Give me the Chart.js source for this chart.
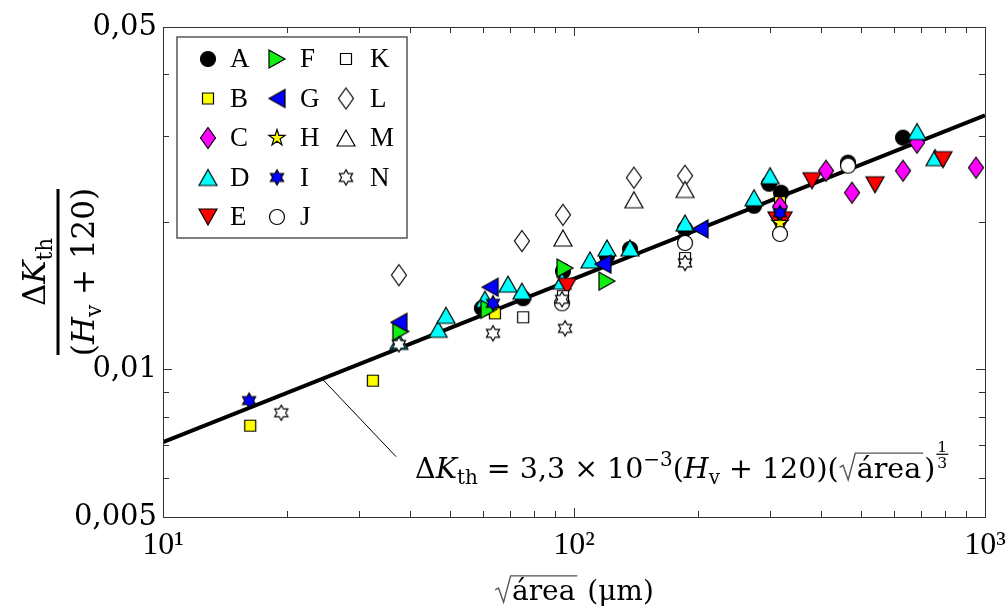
<!DOCTYPE html>
<html>
<head>
<meta charset="utf-8">
<script src="https://cdn.jsdelivr.net/npm/chart.js@4.4.1/dist/chart.umd.min.js"></script>
<style>
  html, body { margin: 0; padding: 0; background: #fff; }
  #wrap { width: 1008px; height: 610px; }
</style>
</head>
<body>
<div id="wrap"><canvas id="grafico" width="1008" height="610"></canvas></div>
<script>
// sqrt(área) in µm vs ΔKth/(Hv+120), one pair of arrays per material
const xA = [59.7, 75.2, 94.0, 120.3, 136.9, 186.3, 274.2, 298.3, 318.9, 464.3, 631.7];
const yA = [0.01334, 0.01398, 0.01588, 0.01704, 0.01762, 0.01936, 0.02158, 0.02394, 0.02295, 0.02643, 0.02973];
const xB = [16.3, 32.4, 64.2, 317.1];
const yB = [0.00768, 0.00949, 0.01302, 0.02196];
const xC = [317.1, 410.4, 474.8, 631.7, 683.3, 951];
const yC = [0.02150, 0.02545, 0.02295, 0.02545, 0.02904, 0.02582];
const xD = [37.5, 46.7, 48.8, 60.7, 69.1, 74.7, 93.5, 109.4, 120.3, 136.9, 186.3, 274.2, 300.0, 683.3, 755.7];
const yD = [0.01141, 0.01208, 0.01290, 0.01391, 0.01494, 0.01445, 0.01515, 0.01673, 0.01770, 0.01770, 0.01991, 0.02241, 0.02486, 0.03059, 0.02706];
const xE = [96.2, 311.8, 322.5, 379.4, 540.0, 790.3];
const yE = [0.01479, 0.02020, 0.02020, 0.02428, 0.02382, 0.02681];
const xF = [37.9, 62.1, 95.1, 120.3];
const yF = [0.01196, 0.01327, 0.01611, 0.01515];
const xG = [37.5, 62.5, 117.6, 202.6];
const yG = [0.01248, 0.01472, 0.01641, 0.01936];
const xH = [317.1];
const yH = [0.01991];
const xI = [16.2, 63.5, 317.1];
const yI = [0.00864, 0.01365, 0.02088];
const xJ = [93.5, 186.3, 317.1, 464.3];
const yJ = [0.01365, 0.01812, 0.01891, 0.02606];
const xK = [75.2, 94.0, 186.3];
const yK = [0.01278, 0.01411, 0.01688];
const xL = [37.5, 74.7, 94.0, 139.9, 186.3];
const yL = [0.01558, 0.01829, 0.02069, 0.02463, 0.02486];
const xM = [94.0, 139.9, 186.3];
const yM = [0.01855, 0.02220, 0.02330];
const xN = [19.4, 37.5, 63.5, 95.1, 93.5, 186.3];
const yN = [0.00816, 0.01125, 0.01185, 0.01213, 0.01391, 0.01649];

const SERIES = ['A', 'B', 'C', 'D', 'E', 'F', 'G', 'H', 'I', 'J', 'K', 'L', 'M', 'N'];
const SERIES_X = [xA, xB, xC, xD, xE, xF, xG, xH, xI, xJ, xK, xL, xM, xN];
const SERIES_Y = [yA, yB, yC, yD, yE, yF, yG, yH, yI, yJ, yK, yL, yM, yN];

// ΔKth = 3,3e-3 (Hv+120) sqrt(área)^(1/3)
const FIT_COEF = 3.3e-3;
const FIT_EXP = 1 / 3;
const FIT_RANGE = [10, 1000];

// leader from the fit line down to the equation
const LEADER_X = [24.4, 36.9];
const LEADER_Y_END = 0.00664;

const X_TICKS = [10, 20, 30, 40, 50, 60, 70, 80, 90, 100, 200, 300, 400, 500, 600, 700, 800, 900, 1000];
const X_LABELS = { 10: '10¹', 100: '10²', 1000: '10³' };
const Y_TICKS = [0.005, 0.006, 0.007, 0.008, 0.009, 0.01, 0.02, 0.03, 0.04, 0.05];
const Y_LABELS = { 0.005: '0,005', 0.01: '0,01', 0.05: '0,05' };

const MATH = '"DejaVu Serif"';
const TEXT = '"Liberation Serif"';

const MARKERS = {
    A: ['circle', '#000000'],
    B: ['square', '#ffff00'],
    C: ['diamond', '#ff00ff'],
    D: ['triUp', '#00ffff'],
    E: ['triDown', '#ff0000'],
    F: ['triRight', '#11ee11'],
    G: ['triLeft', '#0000ff'],
    H: ['pentagram', '#ffff00'],
    I: ['hexagram', '#0000ff'],
    J: ['circle', '#ffffff'],
    K: ['square', '#ffffff'],
    L: ['diamond', '#ffffff'],
    M: ['triUp', '#ffffff'],
    N: ['hexagram', '#ffffff'],
};

function starPath(g, n, R, r) {
    for (let i = 0; i < 2 * n; i++) {
        const ang = -Math.PI / 2 + i * Math.PI / n;
        const rad = i % 2 === 0 ? R : r;
        const px = rad * Math.cos(ang), py = rad * Math.sin(ang);
        if (i === 0) g.moveTo(px, py); else g.lineTo(px, py);
    }
}

function makeMarker(shape, fill) {
    const c = document.createElement('canvas');
    c.width = 26; c.height = 26;
    const g = c.getContext('2d');
    g.translate(13, 13);
    g.beginPath();
    switch (shape) {
        case 'circle': g.arc(0, 0, 7.5, 0, Math.PI * 2); break;
        case 'square': g.rect(-5.5, -5.5, 11, 11); break;
        case 'diamond':
            g.moveTo(0, -10.5); g.lineTo(7.5, 0); g.lineTo(0, 10.5); g.lineTo(-7.5, 0); break;
        case 'triUp':
            g.moveTo(0, -8); g.lineTo(9, 8); g.lineTo(-9, 8); break;
        case 'triDown':
            g.moveTo(0, 8); g.lineTo(9, -8); g.lineTo(-9, -8); break;
        case 'triRight':
            g.moveTo(8, 0); g.lineTo(-8, -9); g.lineTo(-8, 9); break;
        case 'triLeft':
            g.moveTo(-8, 0); g.lineTo(8, -9); g.lineTo(8, 9); break;
        case 'pentagram': starPath(g, 5, 8.5, 8.5 * 0.382); break;
        case 'hexagram': starPath(g, 6, 7.6, 7.6 / Math.sqrt(3)); break;
    }
    g.closePath();
    g.fillStyle = fill;
    g.fill();
    g.lineWidth = 1.2;
    g.strokeStyle = '#000';
    g.stroke();
    return c;
}

const markerImg = {};
SERIES.forEach(k => { markerImg[k] = makeMarker(MARKERS[k][0], MARKERS[k][1]); });

const fitY = x => FIT_COEF * Math.pow(x, FIT_EXP);

const datasets = SERIES.map((k, i) => ({
    label: k,
    data: SERIES_X[i].map((x, j) => ({ x, y: SERIES_Y[i][j] })),
    pointStyle: markerImg[k],
    pointRadius: 8,
    pointHoverRadius: 8,
    showLine: false,
    order: 20 - i,
}));

datasets.unshift({
    label: 'ajuste',
    data: FIT_RANGE.map(x => ({ x, y: fitY(x) })),
    showLine: true,
    borderColor: '#000',
    borderWidth: 4,
    pointRadius: 0,
    order: 30,
});
datasets.unshift({
    label: 'guia',
    data: [{ x: LEADER_X[0], y: fitY(LEADER_X[0]) }, { x: LEADER_X[1], y: LEADER_Y_END }],
    showLine: true,
    borderColor: '#000',
    borderWidth: 1,
    pointRadius: 0,
    order: 31,
});

// --- rich math text helpers ---
function setFont(ctx, size, italic, fam) {
    ctx.font = (italic ? 'italic ' : '') + size + 'px ' + (fam || MATH);
}

function drawRadical(ctx, x, y, text, size, draw) {
    const top = y - 0.86 * size;
    const x0 = x + 1;
    const xt = x0 + 0.6 * size;
    setFont(ctx, size, false);
    const w = ctx.measureText(text).width;
    if (draw) {
        ctx.save();
        ctx.lineWidth = Math.max(1.2, size * 0.05);
        ctx.lineJoin = 'miter';
        ctx.beginPath();
        ctx.moveTo(x0, y - 0.36 * size);
        ctx.lineTo(x0 + 0.12 * size, y - 0.43 * size);
        ctx.lineTo(x0 + 0.3 * size, y + 0.08 * size);
        ctx.lineTo(x0 + 0.55 * size, top);
        ctx.lineTo(xt + w + 2, top);
        ctx.stroke();
        ctx.restore();
        ctx.fillText(text, xt, y);
    }
    return xt + w + 3;
}

function drawRuns(ctx, x, y, runs, size, draw) {
    for (const r of runs) {
        if (r.rad) { x = drawRadical(ctx, x, y, r.rad, size, draw); continue; }
        if (r.frac) {
            const s = size * 0.55;
            setFont(ctx, s, false);
            const w = Math.max(ctx.measureText(r.frac[0]).width, ctx.measureText(r.frac[1]).width) + 2;
            if (draw) {
                const bar = y - 0.82 * size;
                ctx.textAlign = 'center';
                ctx.fillText(r.frac[0], x + 1 + w / 2, bar - 2);
                ctx.fillText(r.frac[1], x + 1 + w / 2, bar + 2 + 0.73 * s);
                ctx.textAlign = 'left';
                ctx.fillRect(x + 1, bar - 0.6, w, 1.2);
            }
            x += w + 2;
            continue;
        }
        const s = size * (r.s || 1);
        setFont(ctx, s, r.it, r.fam);
        if (draw) ctx.fillText(r.t, x, y + (r.dy || 0) * size);
        x += ctx.measureText(r.t).width;
    }
    return x;
}

const EQ_RUNS = [
    { t: 'Δ' }, { t: 'K', it: true }, { t: 'th', s: 0.7, dy: 0.22 },
    { t: ' = 3,3 × 10' }, { t: '−3', s: 0.7, dy: -0.42 },
    { t: '(' }, { t: 'H', it: true }, { t: 'v', s: 0.7, dy: 0.22 },
    { t: ' + 120)(' }, { rad: 'área' }, { t: ')' }, { frac: ['1', '3'] },
];
const NUM_RUNS = [{ t: 'Δ' }, { t: 'K', it: true }, { t: 'th', s: 0.7, dy: 0.22 }];
const DEN_RUNS = [{ t: '(' }, { t: 'H', it: true }, { t: 'v', s: 0.7, dy: 0.22 }, { t: ' + 120)' }];
const XT_RUNS = [{ rad: 'área' }, { t: ' (μm)' }];

const decorations = {
    id: 'decorations',
    afterDatasetsDraw(chart) {
        const { ctx, chartArea: a, scales: { x, y } } = chart;
        ctx.save();

        // axes box with inward ticks on all sides
        ctx.strokeStyle = '#333';
        ctx.lineWidth = 1;
        ctx.strokeRect(a.left + 0.5, a.top + 0.5, a.right - a.left, a.bottom - a.top);
        ctx.beginPath();
        X_TICKS.forEach(v => {
            const px = Math.round(x.getPixelForValue(v)) + 0.5;
            const len = X_LABELS[v] ? 9 : 6;
            ctx.moveTo(px, a.bottom); ctx.lineTo(px, a.bottom - len);
            ctx.moveTo(px, a.top); ctx.lineTo(px, a.top + len);
        });
        Y_TICKS.forEach(v => {
            const py = Math.round(y.getPixelForValue(v)) + 0.5;
            const len = Y_LABELS[v] ? 9 : 6;
            ctx.moveTo(a.left, py); ctx.lineTo(a.left + len, py);
            ctx.moveTo(a.right, py); ctx.lineTo(a.right - len, py);
        });
        ctx.stroke();

        // legend, three columns
        const lx = a.left + 14, ly = a.top + 10, lw = 230, lh = 201;
        ctx.fillStyle = '#fff';
        ctx.fillRect(lx, ly, lw, lh);
        ctx.strokeStyle = '#555';
        ctx.lineWidth = 1.5;
        ctx.strokeRect(lx, ly, lw, lh);
        ctx.fillStyle = '#000';
        ctx.font = '27px ' + TEXT;
        ctx.textBaseline = 'middle';
        SERIES.forEach((k, i) => {
            const col = Math.floor(i / 5), row = i % 5;
            const cx = lx + 31 + col * 69;
            const cy = ly + 22 + row * 39.5;
            const img = markerImg[k];
            ctx.drawImage(img, cx - img.width / 2, cy - img.height / 2);
            ctx.fillText(k, lx + 53 + col * 70, cy + 1);
        });
        ctx.textBaseline = 'alphabetic';

        // fitted equation beside the leader
        const ex = x.getPixelForValue(LEADER_X[1]) + 19;
        const ey = y.getPixelForValue(LEADER_Y_END) + 21;
        drawRuns(ctx, ex, ey, EQ_RUNS, 28.5, true);

        // x title centred under the axis
        const xs = 28;
        const xw = drawRuns(ctx, 0, 0, XT_RUNS, xs, false);
        drawRuns(ctx, (a.left + a.right) / 2 - xw / 2, 600, XT_RUNS, xs, true);

        // y title as a rotated fraction
        const fs = 31;
        ctx.translate(58, (a.top + a.bottom) / 2);
        ctx.rotate(-Math.PI / 2);
        const nw = drawRuns(ctx, 0, 0, NUM_RUNS, fs, false);
        const dw = drawRuns(ctx, 0, 0, DEN_RUNS, fs, false);
        drawRuns(ctx, -nw / 2, -13, NUM_RUNS, fs, true);
        drawRuns(ctx, -dw / 2, 36, DEN_RUNS, fs, true);
        ctx.fillRect(-83, -1.5, 166, 3);

        ctx.restore();
    }
};

new Chart(document.getElementById('grafico'), {
    type: 'scatter',
    data: { datasets },
    plugins: [decorations],
    options: {
        responsive: false,
        devicePixelRatio: 1,
        animation: false,
        layout: { padding: { top: 27, right: 23, left: 0, bottom: 0 } },
        plugins: {
            legend: { display: false },
            tooltip: { enabled: false },
        },
        scales: {
            x: {
                type: 'logarithmic',
                min: 10,
                max: 1000,
                afterBuildTicks: s => { s.ticks = X_TICKS.map(v => ({ value: v })); },
                afterFit: s => { s.height = 93; s.paddingLeft = 0; s.paddingRight = 0; },
                grid: { display: false, drawTicks: false },
                border: { display: false },
                ticks: {
                    autoSkip: false,
                    maxRotation: 0,
                    padding: 9,
                    color: '#000',
                    font: { family: TEXT, size: 32 },
                    callback: v => X_LABELS[v] || '',
                },
            },
            y: {
                type: 'logarithmic',
                min: 0.005,
                max: 0.05,
                afterBuildTicks: s => { s.ticks = Y_TICKS.map(v => ({ value: v })); },
                afterFit: s => { s.width = 163; s.paddingTop = 0; s.paddingBottom = 0; },
                grid: { display: false, drawTicks: false },
                border: { display: false },
                ticks: {
                    autoSkip: false,
                    padding: 6,
                    color: '#000',
                    font: { family: MATH, size: 29 },
                    callback: v => Y_LABELS[v] || '',
                },
            },
        },
    },
});
</script>
</body>
</html>
